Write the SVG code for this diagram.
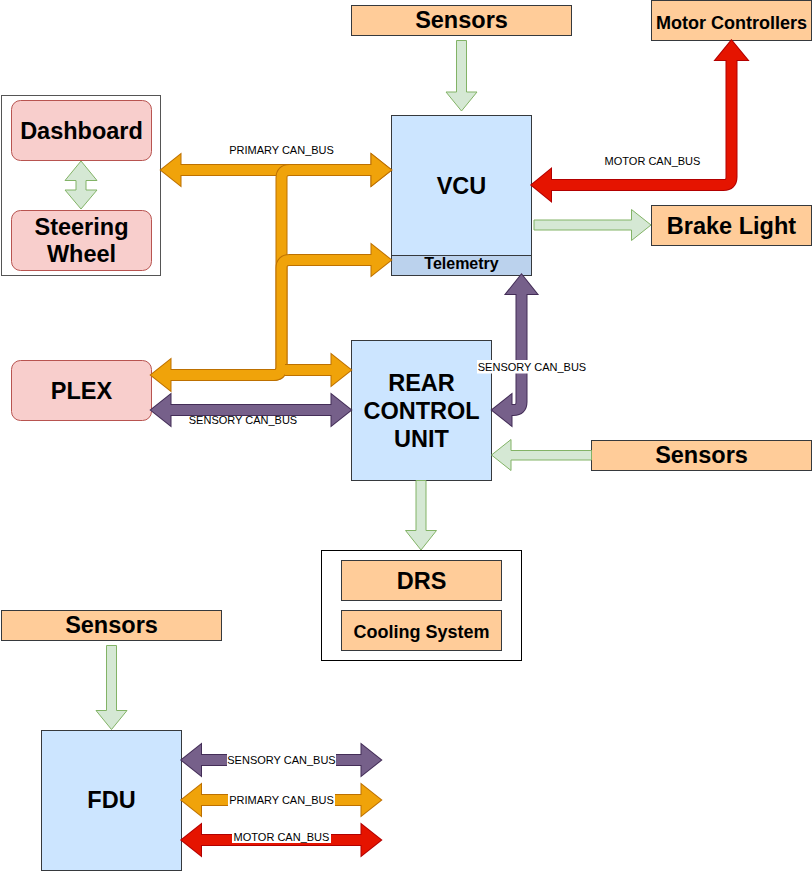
<svg xmlns="http://www.w3.org/2000/svg" width="812" height="871" viewBox="0 0 812 871">
<style>
  text{font-family:"Liberation Sans",Arial,Helvetica,sans-serif;fill:#000;text-anchor:middle}
  .big{font-size:23.5px;font-weight:bold}
  .mid{font-size:18px;font-weight:bold}
  .tel{font-size:16px;font-weight:bold}
  .lbl{font-size:11px}
  .blue{fill:#cce5ff;stroke:#36393d;stroke-width:1}
  .telem{fill:#bbd2ed;stroke:#36393d;stroke-width:1}
  .peach{fill:#ffcc99;stroke:#36393d;stroke-width:1}
  .pink{fill:#f8cecc;stroke:#b85450;stroke-width:1}
  .grp{fill:#fff;stroke:#000;stroke-width:1}
  .grp2{fill:#fff;stroke:#555;stroke-width:1}
  .green{fill:#d5e8d4;stroke:#82b366;stroke-width:1}
  .bg{fill:#fff}
  .o{fill:none;stroke-width:12}
  .i{fill:none;stroke-width:10}
  .ho{stroke-width:2;stroke-linejoin:miter}
  .hi{stroke:none}
  .orange .o{stroke:#BD7000}.orange .i{stroke:#f0a30a}.orange .ho{fill:#BD7000;stroke:#BD7000}.orange .hi{fill:#f0a30a}
  .purple .o{stroke:#432D57}.purple .i{stroke:#76608a}.purple .ho{fill:#432D57;stroke:#432D57}.purple .hi{fill:#76608a}
  .red .o{stroke:#B20000}.red .i{stroke:#e51400}.red .ho{fill:#B20000;stroke:#B20000}.red .hi{fill:#e51400}
</style>
<rect width="812" height="871" fill="#fff"/>

<g id="nodes">
  <g id="sensors-top"><rect class="peach" x="351.5" y="5.5" width="220" height="30"/><text class="big" x="461.5" y="28">Sensors</text></g>
  <g id="motor-controllers"><rect class="peach" x="651.5" y="0.5" width="160" height="40"/><text class="mid" x="731.5" y="29">Motor Controllers</text></g>
  <g id="vcu"><rect class="blue" x="391.5" y="115.5" width="140" height="160"/><rect class="telem" x="391.5" y="255.5" width="140" height="20"/><text class="big" x="461.5" y="194">VCU</text><text class="tel" x="461.5" y="268.5">Telemetry</text></g>
  <g id="brake-light"><rect class="peach" x="651.5" y="205.5" width="160" height="40"/><text class="big" x="731.5" y="233.5">Brake Light</text></g>
  <g id="driver-group"><rect class="grp2" x="1.5" y="95.5" width="159" height="180"/>
    <g id="dashboard"><rect class="pink" x="11.5" y="100.5" width="140" height="60" rx="9"/><text class="big" x="81.5" y="139">Dashboard</text></g>
    <g id="steering-wheel"><rect class="pink" x="11.5" y="210.5" width="140" height="60" rx="9"/><text class="big" x="81.5" y="235">Steering</text><text class="big" x="81.5" y="262.3">Wheel</text></g>
    <polygon class="green" points="81,161 97,180.5 86,180.5 86,190 97,190 81,209 65,190 76,190 76,180.5 65,180.5"/>
  </g>
  <g id="plex"><rect class="pink" x="11.5" y="360.5" width="140" height="60" rx="9"/><text class="big" x="81.5" y="399">PLEX</text></g>
  <g id="rear-control-unit"><rect class="blue" x="351.5" y="340.5" width="140" height="140"/><text class="big" x="421.5" y="391">REAR</text><text class="big" x="421.5" y="419">CONTROL</text><text class="big" x="421.5" y="446.7">UNIT</text></g>
  <g id="sensors-right"><rect class="peach" x="591.5" y="440.5" width="220" height="30"/><text class="big" x="701.5" y="463.3">Sensors</text></g>
  <g id="rear-group"><rect class="grp" x="321.5" y="550.5" width="200" height="110"/>
    <g id="drs"><rect class="peach" x="341.5" y="560.5" width="160" height="40"/><text class="big" x="421.5" y="589">DRS</text></g>
    <g id="cooling-system"><rect class="peach" x="341.5" y="610.5" width="160" height="40"/><text class="mid" x="421.5" y="638.3">Cooling System</text></g>
  </g>
  <g id="sensors-bottom"><rect class="peach" x="1.5" y="610.5" width="220" height="30"/><text class="big" x="111.5" y="633.3">Sensors</text></g>
  <g id="fdu"><rect class="blue" x="41.5" y="730.5" width="140" height="140"/><text class="big" x="111.5" y="808.3">FDU</text></g>
</g>

<g id="connectors">
  <!-- green signal arrows -->
  <polygon class="green" points="456.5,40.5 466.5,40.5 466.5,92 477,92 461.5,111 446,92 456.5,92"/>
  <polygon class="green" points="534,220 631.5,220 631.5,209.5 651,225 631.5,240.5 631.5,230 534,230"/>
  <polygon class="green" points="591.5,450.5 511,450.5 511,439.5 491.5,455 511,470.5 511,460 591.5,460"/>
  <polygon class="green" points="416,480.5 426,480.5 426,530.5 436.5,530.5 421,550 405.5,530.5 416,530.5"/>
  <polygon class="green" points="106.5,645.5 116.5,645.5 116.5,710.5 127,710.5 111.5,729.5 96,710.5 106.5,710.5"/>

  <!-- primary can bus -->
  <g class="orange">
    <path class="o" d="M178.5 170 H373.5"/>
    <polygon class="ho" points="161,170 180.5,154.5 180.5,185.5"/><polygon class="ho" points="391,170 371.5,154.5 371.5,185.5"/>
    <path class="i" d="M178.5 170 H373.5"/>
    <polygon class="hi" points="161,170 180.5,154.5 180.5,185.5"/><polygon class="hi" points="391,170 371.5,154.5 371.5,185.5"/>
  </g>
  <g class="orange">
    <path class="o" d="M168.5 375 H273.5 Q281.5 375 281.5 367 V178 Q281.5 170 289.5 170 H373.5"/>
    <polygon class="ho" points="151,375 170.5,359.5 170.5,390.5"/><polygon class="ho" points="391,170 371.5,154.5 371.5,185.5"/>
    <path class="i" d="M168.5 375 H273.5 Q281.5 375 281.5 367 V178 Q281.5 170 289.5 170 H373.5"/>
    <polygon class="hi" points="151,375 170.5,359.5 170.5,390.5"/><polygon class="hi" points="391,170 371.5,154.5 371.5,185.5"/>
  </g>
  <g class="orange">
    <path class="o" d="M176 375 H273.5 Q281.5 375 281.5 367 V268 Q281.5 260 289.5 260 H373.5"/>
    <polygon class="ho" points="391,260 371.5,244.5 371.5,275.5"/>
    <path class="i" d="M176 375 H273.5 Q281.5 375 281.5 367 V268 Q281.5 260 289.5 260 H373.5"/>
    <polygon class="hi" points="391,260 371.5,244.5 371.5,275.5"/>
  </g>
  <g class="orange">
    <path class="o" d="M285 370 H333.5"/>
    <polygon class="ho" points="351,370 331.5,354.5 331.5,385.5"/>
    <path class="i" d="M285 370 H333.5"/>
    <polygon class="hi" points="351,370 331.5,354.5 331.5,385.5"/>
  </g>
  <text class="lbl" x="281.5" y="154">PRIMARY CAN_BUS</text>

  <!-- sensory can bus -->
  <g class="purple">
    <path class="o" d="M168.5 410 H333.5"/>
    <polygon class="ho" points="151,410 170.5,394.5 170.5,425.5"/><polygon class="ho" points="351,410 331.5,394.5 331.5,425.5"/>
    <path class="i" d="M168.5 410 H333.5"/>
    <polygon class="hi" points="151,410 170.5,394.5 170.5,425.5"/><polygon class="hi" points="351,410 331.5,394.5 331.5,425.5"/>
  </g>
  <text class="lbl" x="243" y="424">SENSORY CAN_BUS</text>
  <g class="purple">
    <path class="o" d="M521.5 292 V402 Q521.5 410 513.5 410 H509.5"/>
    <polygon class="ho" points="521.5,274.5 506,294 537,294"/><polygon class="ho" points="492,410 511.5,394.5 511.5,425.5"/>
    <path class="i" d="M521.5 292 V402 Q521.5 410 513.5 410 H509.5"/>
    <polygon class="hi" points="521.5,274.5 506,294 537,294"/><polygon class="hi" points="492,410 511.5,394.5 511.5,425.5"/>
  </g>
  <rect class="bg" x="477" y="360" width="110" height="13.5"/>
  <text class="lbl" x="532" y="370.5">SENSORY CAN_BUS</text>

  <!-- motor can bus -->
  <g class="red">
    <path class="o" d="M549 185 H723.5 Q731.5 185 731.5 177 V58"/>
    <polygon class="ho" points="531.5,185 551,169 551,201"/><polygon class="ho" points="731.5,40.5 715.5,60 747.5,60"/>
    <path class="i" d="M549 185 H723.5 Q731.5 185 731.5 177 V58"/>
    <polygon class="hi" points="531.5,185 551,169 551,201"/><polygon class="hi" points="731.5,40.5 715.5,60 747.5,60"/>
  </g>
  <text class="lbl" x="652.5" y="165">MOTOR CAN_BUS</text>

  <!-- FDU buses -->
  <g class="purple">
    <path class="o" d="M199 760 H363.5"/>
    <polygon class="ho" points="181.5,760 201,744.5 201,775.5"/><polygon class="ho" points="381,760 361.5,744.5 361.5,775.5"/>
    <path class="i" d="M199 760 H363.5"/>
    <polygon class="hi" points="181.5,760 201,744.5 201,775.5"/><polygon class="hi" points="381,760 361.5,744.5 361.5,775.5"/>
  </g>
  <rect class="bg" x="227" y="753" width="109" height="14"/>
  <text class="lbl" x="281.5" y="764">SENSORY CAN_BUS</text>
  <g class="orange">
    <path class="o" d="M199 800 H363.5"/>
    <polygon class="ho" points="181.5,800 201,784.5 201,815.5"/><polygon class="ho" points="381,800 361.5,784.5 361.5,815.5"/>
    <path class="i" d="M199 800 H363.5"/>
    <polygon class="hi" points="181.5,800 201,784.5 201,815.5"/><polygon class="hi" points="381,800 361.5,784.5 361.5,815.5"/>
  </g>
  <rect class="bg" x="228" y="793" width="107" height="14"/>
  <text class="lbl" x="281.5" y="804">PRIMARY CAN_BUS</text>
  <g class="red">
    <path class="o" d="M199 840 H363.5"/>
    <polygon class="ho" points="181.5,840 201,824.5 201,855.5"/><polygon class="ho" points="381,840 361.5,824.5 361.5,855.5"/>
    <path class="i" d="M199 840 H363.5"/>
    <polygon class="hi" points="181.5,840 201,824.5 201,855.5"/><polygon class="hi" points="381,840 361.5,824.5 361.5,855.5"/>
  </g>
  <rect class="bg" x="232" y="829.5" width="99" height="13.5"/>
  <text class="lbl" x="281.5" y="840.5">MOTOR CAN_BUS</text>
</g>
</svg>
